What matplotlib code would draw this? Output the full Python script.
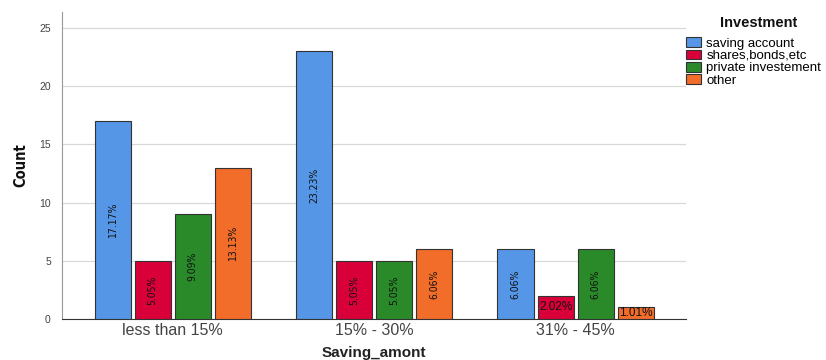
import numpy as np
import matplotlib.pyplot as plt

# counts per saving group, one list per investment type
groups = ["less than 15%", "15% - 30%", "31% - 45%"]
investments = ["saving account", "shares,bonds,etc", "private investement", "other"]
saving_account = [17, 23, 6]
shares = [5, 5, 2]
private = [9, 5, 6]
other = [13, 6, 1]
pct_labels = [
    ["17.17%", "23.23%", "6.06%"],
    ["5.05%", "5.05%", "2.02%"],
    ["9.09%", "5.05%", "6.06%"],
    ["13.13%", "6.06%", "1.01%"],
]
colors = ["#5596E6", "#D9003A", "#2A8A2A", "#F26C2A"]

series = [saving_account, shares, private, other]

fig = plt.figure(figsize=(8.26, 3.6), dpi=100)
ax = fig.add_axes([0.075, 0.114, 0.756, 0.853])

x = np.arange(len(groups))
width = 0.179
step = 0.199
for i, vals in enumerate(series):
    pos = x + (i - 1.5) * step
    bars = ax.bar(pos, vals, width, color=colors[i], edgecolor="#333333",
                  linewidth=0.8, label=investments[i], zorder=3)
    for b, v, lab in zip(bars, vals, pct_labels[i]):
        cx = b.get_x() + b.get_width() / 2
        if v >= 3:
            ax.text(cx, v / 2, lab, rotation=90, ha="center", va="center",
                    fontsize=7.5, color="#111111", zorder=4,
                    family="DejaVu Sans", fontstretch="condensed")
        else:
            ax.text(cx, v / 2, lab, ha="center", va="center",
                    fontsize=8.5, color="#111111", zorder=4,
                    family="Liberation Sans")

ax.set_xlim(-0.55, 2.55)
ax.set_ylim(0, 26.4)
ax.set_yticks([0, 5, 10, 15, 20, 25])
ax.set_xticks(x)
ax.set_xticklabels(groups, fontsize=11.5, color="#444444", family="Liberation Sans")
ax.tick_params(axis="y", labelsize=7.5, labelcolor="#444444", length=0, pad=8)
ax.tick_params(axis="x", length=0, pad=3)
for lab in ax.get_yticklabels():
    lab.set_family("Liberation Sans")

ax.grid(axis="y", color="#d8d8d8", linewidth=0.9, zorder=0)
ax.spines["top"].set_visible(False)
ax.spines["right"].set_visible(False)
ax.spines["left"].set_color("#999999")
ax.spines["bottom"].set_color("#333333")

ax.set_xlabel("Saving_amont", fontsize=11, fontweight="bold",
              family="Liberation Sans", color="#222222", labelpad=6)
ax.set_ylabel("Count", fontsize=10.5, fontweight="bold",
              family="DejaVu Sans", fontstretch="condensed", color="#111111", labelpad=8)

fig.text(0.918, 0.935, "Investment", ha="center", va="center", fontsize=10.5,
         fontweight="bold", family="Liberation Sans", color="#111111")
leg = fig.legend(loc="upper left", bbox_to_anchor=(0.831, 0.897), frameon=False,
                 handlelength=1.1, handleheight=0.75, handletextpad=0.4,
                 labelspacing=0.0, borderpad=0, borderaxespad=0,
                 prop={"family": "Liberation Sans", "size": 9.5})

fig.savefig("out.png", dpi=100)
